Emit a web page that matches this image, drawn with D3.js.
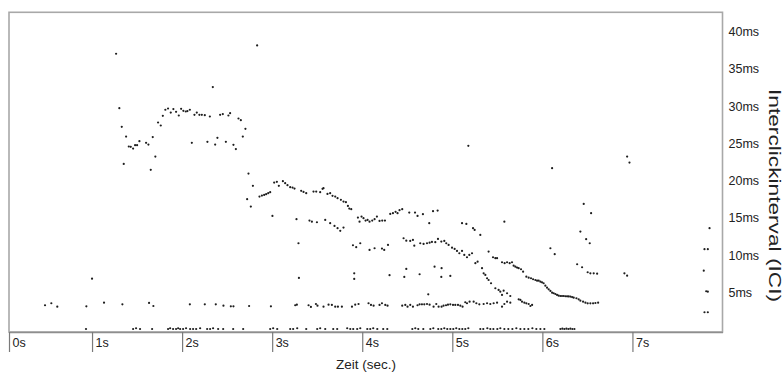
<!DOCTYPE html>
<html>
<head>
<meta charset="utf-8">
<script src="https://cdn.jsdelivr.net/npm/d3@7"></script>
<style>
  body { margin: 0; background: #fff; }
  svg { display: block; font-family: Arial, "Liberation Sans", sans-serif; }
</style>
</head>
<body>
<svg id="chart" width="783" height="372"></svg>
<script>
// Tick values for both axes
const timeTicks = [0, 1, 2, 3, 4, 5, 6, 7];          // seconds
const iciTicks = [5, 10, 15, 20, 25, 30, 35, 40];    // milliseconds

// Detected clicks: [time in s, inter-click interval in ms]
const isolated = [
  [1.267, 37.04], [2.833, 38.15], [2.341, 32.56], [5.178, 24.68],
  [6.108, 21.69], [6.941, 23.24], [6.967, 22.44]
];

const band29 = [
  [1.303, 29.74], [1.330, 27.23], [1.733, 27.81], [1.763, 27.41], [1.786, 28.71],
  [1.814, 29.52], [1.844, 29.69], [1.874, 29.15], [1.903, 29.61], [1.933, 29.25],
  [1.963, 28.75], [1.989, 29.65], [2.014, 29.38], [2.041, 29.29], [2.059, 29.34],
  [2.086, 29.52], [2.137, 28.84], [2.163, 29.15], [2.192, 28.84], [2.219, 28.84],
  [2.252, 28.80], [2.308, 28.62], [2.422, 28.84], [2.452, 28.94], [2.514, 28.75],
  [2.533, 29.07], [2.626, 28.35], [2.652, 28.13], [2.703, 26.96]
];

const band25 = [
  [1.378, 25.93], [1.408, 24.59], [1.430, 24.55], [1.456, 24.32], [1.478, 24.77],
  [1.500, 24.77], [1.526, 25.31], [1.600, 25.08], [1.626, 24.85], [1.674, 25.85],
  [1.703, 23.24], [1.352, 22.26], [1.652, 21.46], [2.737, 20.96], [2.108, 25.08],
  [2.281, 25.22], [2.367, 24.85], [2.392, 25.75], [2.486, 25.22], [2.570, 24.81],
  [2.597, 24.24], [2.674, 25.93]
];

const band19 = [
  [2.786, 19.31], [2.722, 17.52], [2.763, 16.53], [2.859, 17.87], [2.886, 18.01],
  [2.911, 18.10], [2.933, 18.19], [2.956, 18.33], [2.978, 18.46], [3.003, 15.28],
  [3.022, 19.75], [3.052, 19.85], [3.074, 19.31], [3.119, 19.94], [3.144, 19.67],
  [3.170, 19.40], [3.200, 19.13], [3.226, 19.08], [3.248, 18.95], [3.322, 18.64],
  [3.348, 18.50], [3.378, 18.33], [3.459, 18.54], [3.489, 18.54], [3.533, 18.46],
  [3.559, 18.91], [3.570, 19.00], [3.614, 18.23], [3.644, 18.33], [3.670, 17.97],
  [3.700, 17.87], [3.726, 17.66], [3.763, 17.43], [3.792, 17.20], [3.819, 17.12],
  [3.841, 16.62], [3.856, 16.26], [3.878, 16.18]
];

const band15 = [
  [3.952, 15.05], [3.970, 14.51], [3.992, 15.19], [4.014, 14.97], [4.037, 14.65],
  [4.059, 14.74], [4.081, 14.51], [4.111, 14.65], [4.137, 14.84], [4.163, 15.19],
  [4.192, 14.61], [4.222, 14.65], [4.252, 14.65], [4.311, 15.55], [4.341, 15.64],
  [4.370, 15.82], [4.392, 15.64], [4.414, 16.05], [4.444, 16.18], [4.522, 15.72],
  [4.586, 15.72], [4.614, 15.28], [4.674, 15.51], [4.786, 15.91], [4.837, 15.99],
  [4.744, 14.30], [5.108, 14.30], [5.156, 14.20], [5.230, 13.63], [5.248, 13.40],
  [5.578, 14.51]
];

const band14 = [
  [3.270, 14.84], [3.414, 14.65], [3.441, 14.51], [3.497, 14.43], [3.589, 14.74],
  [3.644, 14.30], [3.692, 13.94], [3.726, 13.63], [3.756, 13.27], [3.792, 13.71]
];

const band11 = [
  [3.292, 11.61], [3.897, 11.34], [3.933, 11.08], [3.978, 11.61], [4.081, 10.71],
  [4.137, 10.94], [4.219, 10.89], [4.244, 10.71], [4.286, 11.38], [4.459, 12.28],
  [4.489, 11.96], [4.533, 11.92], [4.563, 12.06], [4.578, 11.29], [4.644, 11.61],
  [4.681, 11.52], [4.719, 11.61], [4.748, 11.69], [4.774, 11.79], [4.811, 11.75],
  [4.841, 12.19], [4.878, 11.83], [4.911, 11.92], [4.933, 11.61], [4.959, 11.38],
  [4.997, 11.02], [5.026, 10.85], [5.052, 10.58], [5.078, 10.27], [5.108, 10.58],
  [5.133, 10.04], [5.163, 9.73], [5.189, 10.04], [5.219, 10.27], [5.256, 8.93],
  [5.281, 9.14], [5.311, 12.73], [5.403, 10.49], [5.452, 9.73], [5.478, 9.60],
  [5.497, 9.60]
];

const sweepMain = [
  [5.552, 9.06], [5.581, 8.93], [5.608, 9.06], [5.637, 8.93], [5.663, 9.06],
  [5.681, 8.60], [5.700, 8.47], [5.719, 8.34], [5.737, 8.26], [5.763, 8.12],
  [5.786, 7.80], [5.822, 7.13], [5.848, 6.99], [5.874, 6.91], [5.897, 6.78],
  [5.922, 6.68], [5.941, 6.59], [5.959, 6.59], [5.978, 6.45], [5.996, 6.37],
  [6.014, 6.24], [6.033, 5.92], [6.052, 5.65], [6.070, 5.43], [6.089, 5.21],
  [6.108, 4.98], [6.126, 4.90], [6.144, 4.80], [6.163, 4.67], [6.181, 4.58],
  [6.200, 4.53], [6.218, 4.53], [6.237, 4.53], [6.256, 4.50], [6.274, 4.49],
  [6.292, 4.47], [6.311, 4.45], [6.330, 4.38], [6.348, 4.31], [6.378, 4.23],
  [6.403, 4.09], [6.422, 3.90], [6.452, 3.77], [6.478, 3.63], [6.503, 3.55],
  [6.533, 3.55], [6.563, 3.55], [6.589, 3.59], [6.619, 3.63]
];

const sweepLower = [
  [5.330, 8.26], [5.348, 7.58], [5.367, 7.36], [5.386, 6.91], [5.403, 6.68],
  [5.430, 6.24], [5.478, 5.57], [5.514, 5.34], [5.533, 5.11], [5.552, 4.67],
  [5.570, 5.25], [5.608, 4.90], [5.644, 4.53], [5.578, 3.46], [5.608, 3.77],
  [5.644, 3.63], [5.552, 3.10], [5.737, 4.09], [5.756, 4.00], [5.774, 3.77],
  [5.800, 3.63], [5.822, 3.55], [5.848, 3.46], [5.867, 3.19], [5.886, 3.33]
];

const lateClicks = [
  [6.089, 10.94], [6.137, 10.14], [6.422, 13.17], [6.486, 12.15], [6.526, 11.61],
  [6.459, 16.89], [6.541, 15.64], [6.386, 8.79], [6.441, 8.39], [6.503, 7.72],
  [6.533, 7.58], [6.570, 7.58], [6.608, 7.53], [6.911, 7.58], [6.941, 7.26],
  [7.856, 13.63], [7.800, 10.81], [7.837, 10.81], [7.792, 7.93], [7.819, 5.17],
  [7.837, 5.11], [7.800, 2.35], [7.837, 2.35]
];

const band7 = [
  [1.000, 6.86], [3.297, 6.95], [3.911, 7.58], [3.911, 6.82], [4.303, 7.32],
  [4.467, 7.09], [4.489, 8.16], [4.637, 7.45], [4.803, 8.47], [4.881, 8.26],
  [4.878, 7.09], [4.978, 7.22], [4.733, 4.76]
];

const band3 = [
  [0.478, 3.29], [0.548, 3.56], [0.614, 3.10], [0.937, 3.15], [1.133, 3.64],
  [1.337, 3.42], [1.633, 3.60], [1.681, 3.19], [2.086, 3.42], [2.252, 3.42],
  [2.374, 3.42], [2.459, 3.23], [2.541, 3.15], [2.570, 3.15], [2.744, 3.19],
  [2.986, 3.15], [3.256, 3.29], [3.274, 3.37], [3.404, 3.29], [3.430, 3.06],
  [3.486, 3.46], [3.503, 3.23], [3.570, 3.10], [3.626, 3.37], [3.663, 3.33],
  [3.700, 3.10], [3.730, 3.10], [3.774, 3.10], [3.886, 3.10], [3.922, 3.37],
  [3.959, 3.46], [4.070, 3.56], [4.097, 3.33], [4.126, 3.23], [4.192, 3.33],
  [4.219, 3.56], [4.256, 3.33], [4.281, 3.23], [4.444, 3.23], [4.478, 3.33],
  [4.503, 3.10], [4.533, 3.33], [4.563, 3.10], [4.614, 3.29], [4.637, 3.42],
  [4.663, 3.42], [4.689, 3.42], [4.719, 3.46], [4.748, 3.37], [4.792, 3.10],
  [4.822, 3.46], [4.848, 3.10], [4.881, 3.10], [4.903, 3.23], [4.930, 3.29],
  [4.952, 3.37], [4.978, 3.42], [5.008, 3.33], [5.033, 3.33], [5.063, 3.33],
  [5.089, 3.23], [5.114, 3.10], [5.144, 3.69], [5.163, 3.56], [5.192, 3.77],
  [5.237, 3.77], [5.267, 3.56], [5.300, 3.42], [5.348, 3.46], [5.386, 3.56],
  [5.422, 3.46], [5.459, 3.56], [5.497, 3.64]
];

const baseline = [
  [0.933, 0.1], [1.456, 0.1], [1.489, 0.2], [1.533, 0.1], [1.667, 0.1],
  [1.844, 0.1], [1.867, 0.2], [1.900, 0.1], [1.933, 0.1], [1.956, 0.2],
  [1.978, 0.1], [2.011, 0.1], [2.044, 0.2], [2.089, 0.1], [2.122, 0.1],
  [2.156, 0.1], [2.200, 0.2], [2.278, 0.1], [2.311, 0.1], [2.344, 0.2],
  [2.400, 0.1], [2.456, 0.1], [2.567, 0.1], [2.678, 0.1], [2.978, 0.1],
  [3.011, 0.2], [3.056, 0.1], [3.200, 0.1], [3.233, 0.1], [3.278, 0.2],
  [3.378, 0.1], [3.500, 0.1], [3.533, 0.2], [3.589, 0.1], [3.678, 0.1],
  [3.722, 0.1], [3.833, 0.2], [3.867, 0.1], [3.900, 0.1], [3.944, 0.1],
  [3.978, 0.2], [4.056, 0.1], [4.089, 0.1], [4.122, 0.2], [4.167, 0.1],
  [4.233, 0.1], [4.278, 0.1], [4.556, 0.1], [4.589, 0.2], [4.622, 0.1],
  [4.678, 0.1], [4.756, 0.1], [4.789, 0.2], [4.844, 0.1], [4.878, 0.1],
  [4.911, 0.2], [4.944, 0.1], [4.978, 0.1], [5.011, 0.1], [5.044, 0.2],
  [5.078, 0.1], [5.111, 0.1], [5.144, 0.1], [5.178, 0.2], [5.311, 0.1],
  [5.344, 0.1], [5.389, 0.2], [5.422, 0.1], [5.456, 0.1], [5.500, 0.1],
  [5.533, 0.2], [5.578, 0.1], [5.622, 0.1], [5.667, 0.1], [5.711, 0.2],
  [5.756, 0.1], [5.800, 0.1], [5.844, 0.1], [5.889, 0.2], [5.933, 0.1],
  [5.978, 0.1], [6.022, 0.1], [6.200, 0.1], [6.222, 0.15], [6.244, 0.1],
  [6.267, 0.15], [6.289, 0.1], [6.311, 0.15], [6.333, 0.1], [6.356, 0.1]
];

const clicks = [].concat(isolated, band29, band25, band19, band15, band14,
  band11, sweepMain, sweepLower, lateClicks, band7, band3, baseline);

const svg = d3.select("#chart");
const frame = { left: 9, right: 722.5, top: 12.3, bottom: 332 };

// Time axis: 0 s sits on the left frame edge
const x = d3.scaleLinear().domain([0.078, 8.0]).range([frame.left, frame.right]).clamp(true);
const y = d3.scaleLinear().domain([-0.3, 42.6]).range([frame.bottom, frame.top]);

// Plot frame
svg.append("rect")
  .attr("x", frame.left).attr("y", frame.top)
  .attr("width", frame.right - frame.left).attr("height", frame.bottom - frame.top)
  .attr("fill", "#fff").attr("stroke", "#a8a8a8").attr("stroke-width", 1.6);

// Clicks
svg.append("g").selectAll("circle").data(clicks).join("circle")
  .attr("cx", d => x(d[0])).attr("cy", d => y(d[1]))
  .attr("r", 1.1).attr("fill", "#1e1e1e");

// Bottom axis with long downward ticks, labels to the right of each tick
const xAxis = svg.append("g")
  .attr("transform", `translate(0,${frame.bottom})`)
  .call(d3.axisBottom(x).tickValues(timeTicks).tickSize(20).tickSizeOuter(0)
    .tickFormat(d => d + "s"));
xAxis.select(".domain").attr("stroke", "#8e8e8e").attr("stroke-width", 1.6);
xAxis.selectAll(".tick line").attr("stroke", "#7a7a7a").attr("stroke-width", 1.2);
xAxis.selectAll(".tick text")
  .attr("x", 3).attr("y", 6).attr("dy", "0.71em")
  .attr("text-anchor", "start")
  .attr("fill", "#222").style("font-size", "12.5px").style("font-family", "Arial, 'Liberation Sans', sans-serif");

// Right axis: labels only
const yAxis = svg.append("g")
  .attr("transform", `translate(${frame.right},0)`)
  .call(d3.axisRight(y).tickValues(iciTicks).tickSize(0).tickPadding(6)
    .tickFormat(d => d + "ms"));
yAxis.select(".domain").remove();
yAxis.selectAll(".tick text")
  .attr("fill", "#222").style("font-size", "12.5px").style("font-family", "Arial, 'Liberation Sans', sans-serif");

// Axis titles
svg.append("text")
  .attr("x", 366).attr("y", 368.5)
  .attr("text-anchor", "middle")
  .attr("fill", "#222").style("font-size", "13.5px")
  .text("Zeit (sec.)");

svg.append("text")
  .attr("transform", "translate(769,195.5) rotate(90)")
  .attr("text-anchor", "middle")
  .attr("fill", "#222").style("font-size", "17px")
  .attr("textLength", 213).attr("lengthAdjust", "spacingAndGlyphs")
  .text("Interclickinterval  (ICI)");
</script>
</body>
</html>
